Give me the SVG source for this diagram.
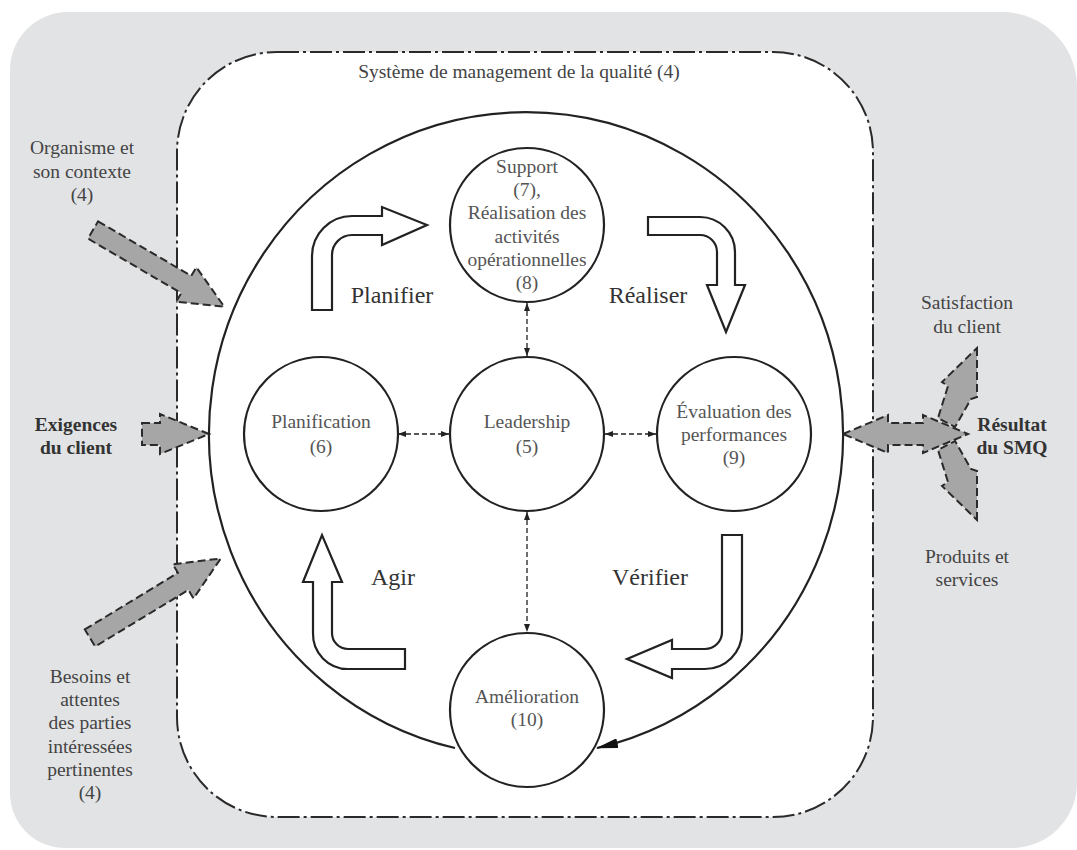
<svg xmlns="http://www.w3.org/2000/svg" width="1077" height="850" viewBox="0 0 1077 850">
<defs>
<style>
.node{fill:#fff;stroke:#222;stroke-width:2.2}
.lbl{font-family:"Liberation Serif","DejaVu Serif",serif;font-size:19.5px;fill:#555;text-anchor:middle}
.ext{font-family:"Liberation Serif","DejaVu Serif",serif;font-size:19.5px;fill:#444;text-anchor:middle}
.bold{font-weight:bold;fill:#333}
.big{font-family:"Liberation Serif","DejaVu Serif",serif;font-size:24px;fill:#333;text-anchor:middle}
.flow{fill:#fff;stroke:#222;stroke-width:2.2;stroke-linejoin:miter}
.io{fill:#a6a6a6;stroke:#2a2a2a;stroke-width:2;stroke-dasharray:8 4;stroke-linejoin:miter}
.dash{fill:none;stroke:#222;stroke-width:1.3;stroke-dasharray:5 3}
</style>
<marker id="sm" viewBox="0 0 8 6" refX="8" refY="3" markerWidth="8" markerHeight="6" markerUnits="userSpaceOnUse" orient="auto-start-reverse"><path d="M0,0 L8,3 L0,6 Z" fill="#222"/></marker>
<marker id="bigm" viewBox="0 0 22 10" refX="21" refY="5" markerWidth="22" markerHeight="10" markerUnits="userSpaceOnUse" orient="auto"><path d="M0,0 L22,5 L0,10 Z" fill="#111"/></marker>
</defs>
<rect width="1077" height="850" fill="#fff"/>
<path d="M10,70 A58,58 0 0 1 68,12 L1002,12 A75,75 0 0 1 1077,87 L1077,783 A65,65 0 0 1 1012,848 L65,848 A55,55 0 0 1 10,793 Z" fill="#e2e3e5"/>
<g id="qms">
<rect x="177" y="52" width="696" height="765" rx="100" ry="100" fill="#fff" stroke="#2a2a2a" stroke-width="2" stroke-dasharray="22 4 3 4"/>
<text class="ext" x="519" y="78">Système de management de la qualité (4)</text>
</g>
<g id="inputs">
<polygon class="io" points="0,-10 108,-10 108,-20 152,0 108,20 108,10 0,10" transform="translate(93,230) rotate(30.3)"/>
<polygon class="io" points="142,423 160,423 160,414 209,434 160,454 160,445 142,445"/>
<polygon class="io" points="0,-10 109,-10 109,-20 153,0 109,20 109,10 0,10" transform="translate(90,638) rotate(-31.3)"/>
<text class="ext"><tspan x="82" y="154">Organisme et</tspan><tspan x="82" y="178">son contexte</tspan><tspan x="82" y="201">(4)</tspan></text>
<text class="ext bold"><tspan x="76" y="431">Exigences</tspan><tspan x="76" y="454">du client</tspan></text>
<text class="ext"><tspan x="90" y="683">Besoins et</tspan><tspan x="90" y="706">attentes</tspan><tspan x="90" y="729">des parties</tspan><tspan x="90" y="753">intéressées</tspan><tspan x="90" y="776">pertinentes</tspan><tspan x="90" y="799">(4)</tspan></text>
</g>
<g id="outputs">
<polygon class="io" points="977,348 977,397 971,399 955,427 938,418 948,386 942,382"/>
<polygon class="io" points="977,520 977,471 971,469 955,441 938,450 948,482 942,486"/>
<polygon class="io" points="843,434 888,415 888,423 923,423 923,415 968,434 923,453 923,445 888,445 888,453"/>
<text class="ext"><tspan x="967" y="309">Satisfaction</tspan><tspan x="967" y="333">du client</tspan></text>
<text class="ext bold"><tspan x="1012" y="431">Résultat</tspan><tspan x="1012" y="454">du SMQ</tspan></text>
<text class="ext"><tspan x="967" y="563">Produits et</tspan><tspan x="967" y="586">services</tspan></text>
</g>
<g id="connectors">
<path d="M455,748 A317,322 0 1 1 597,748" fill="none" stroke="#222" stroke-width="2.2" marker-end="url(#bigm)"/>
<line class="dash" x1="398" y1="434" x2="449" y2="434" marker-start="url(#sm)" marker-end="url(#sm)"/>
<line class="dash" x1="605" y1="434" x2="656" y2="434" marker-start="url(#sm)" marker-end="url(#sm)"/>
<line class="dash" x1="527" y1="303" x2="527" y2="356" marker-start="url(#sm)" marker-end="url(#sm)"/>
<line class="dash" x1="527" y1="512" x2="527" y2="632" marker-start="url(#sm)" marker-end="url(#sm)"/>
</g>
<g id="cycle">
<path class="flow" d="M312,310 L312,256 A40,40 0 0 1 352,216 L382,216 L382,207 L427,225 L382,245 L382,235 L352,235 A20,20 0 0 0 332,255 L332,310 Z"/>
<path class="flow" d="M648,217 L700,217 A35,35 0 0 1 735,252 L735,285 L745,285 L726,332 L707,285 L717,285 L717,252 A17,17 0 0 0 700,235 L648,235 Z"/>
<path class="flow" d="M722,535 L742,535 L742,632 A37,37 0 0 1 705,669 L672,669 L672,678 L627,659 L672,640 L672,649 L705,649 A17,17 0 0 0 722,632 Z"/>
<path class="flow" d="M405,649 L348,649 A16,16 0 0 1 332,633 L332,582 L342,582 L322,535 L303,582 L313,582 L313,633 A35,35 0 0 0 348,669 L405,669 Z"/>
<text class="big" x="392" y="303">Planifier</text>
<text class="big" x="648" y="303">Réaliser</text>
<text class="big" x="393" y="585">Agir</text>
<text class="big" x="650" y="585">Vérifier</text>
</g>
<g id="support">
<circle class="node" cx="527" cy="225" r="77"/>
<text class="lbl"><tspan x="527" y="173">Support</tspan><tspan x="527" y="196">(7),</tspan><tspan x="527" y="219">Réalisation des</tspan><tspan x="527" y="243">activités</tspan><tspan x="527" y="266">opérationnelles</tspan><tspan x="527" y="289">(8)</tspan></text>
</g>
<g id="planification">
<circle class="node" cx="321" cy="434" r="77"/>
<text class="lbl"><tspan x="321" y="428">Planification</tspan><tspan x="321" y="453">(6)</tspan></text>
</g>
<g id="leadership">
<circle class="node" cx="527" cy="434" r="77"/>
<text class="lbl"><tspan x="527" y="428">Leadership</tspan><tspan x="527" y="453">(5)</tspan></text>
</g>
<g id="evaluation">
<circle class="node" cx="734" cy="434" r="77"/>
<text class="lbl"><tspan x="734" y="418">Évaluation des</tspan><tspan x="734" y="441">performances</tspan><tspan x="734" y="464">(9)</tspan></text>
</g>
<g id="amelioration">
<circle class="node" cx="527" cy="710" r="77"/>
<text class="lbl"><tspan x="527" y="703">Amélioration</tspan><tspan x="527" y="726">(10)</tspan></text>
</g>
</svg>
